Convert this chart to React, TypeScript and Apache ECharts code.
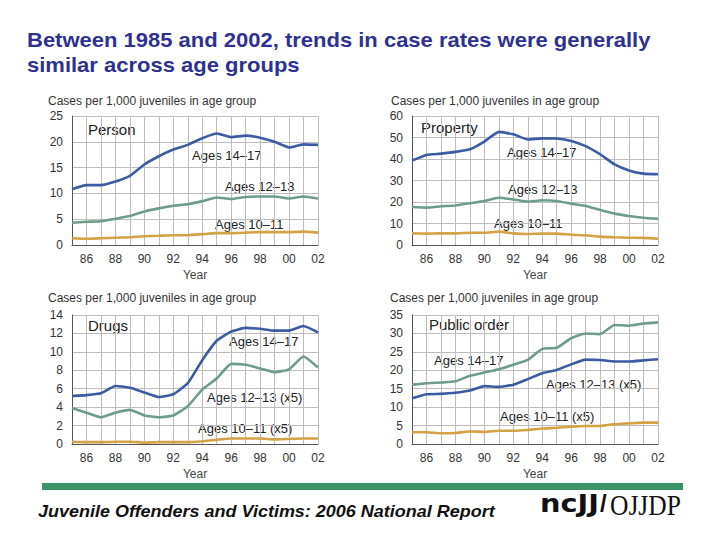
import React, { useEffect, useRef } from "react";
import * as echarts from "echarts";

const years = ["85", "86", "87", "88", "89", "90", "91", "92", "93", "94", "95", "96", "97", "98", "99", "00", "01", "02"];

const personAges1417 = [10.8, 11.6, 11.6, 12.3, 13.4, 15.6, 17.2, 18.5, 19.4, 20.7, 21.6, 20.9, 21.2, 20.8, 20.0, 18.9, 19.5, 19.4];
const personAges1213 = [4.3, 4.5, 4.6, 5.1, 5.6, 6.5, 7.1, 7.6, 7.9, 8.5, 9.2, 8.9, 9.3, 9.4, 9.4, 9.0, 9.4, 9.0];
const personAges1011 = [1.3, 1.2, 1.3, 1.4, 1.5, 1.7, 1.8, 1.9, 1.9, 2.1, 2.3, 2.3, 2.4, 2.5, 2.5, 2.5, 2.6, 2.4];

const propertyAges1417 = [39.3, 41.9, 42.5, 43.3, 44.5, 48.1, 52.6, 51.5, 49.1, 49.6, 49.5, 48.4, 46.0, 42.2, 37.5, 34.7, 33.2, 32.9];
const propertyAges1213 = [17.7, 17.4, 18.0, 18.4, 19.4, 20.5, 22.0, 21.2, 20.2, 20.8, 20.5, 19.2, 18.1, 16.3, 14.6, 13.5, 12.7, 12.2];
const propertyAges1011 = [5.4, 5.3, 5.4, 5.4, 5.7, 5.7, 6.2, 5.4, 5.1, 5.3, 5.3, 4.8, 4.5, 3.9, 3.6, 3.4, 3.3, 2.9];

const drugsAges1417 = [5.2, 5.3, 5.5, 6.3, 6.1, 5.6, 5.1, 5.4, 6.6, 9.1, 11.2, 12.2, 12.6, 12.5, 12.3, 12.3, 12.8, 12.1];
const drugsAges1213x5 = [3.9, 3.4, 2.9, 3.4, 3.7, 3.1, 2.9, 3.1, 4.1, 5.9, 7.1, 8.7, 8.6, 8.2, 7.8, 8.1, 9.5, 8.3];
const drugsAges1011x5 = [0.25, 0.2, 0.2, 0.25, 0.25, 0.15, 0.2, 0.2, 0.2, 0.3, 0.45, 0.6, 0.6, 0.6, 0.5, 0.55, 0.6, 0.6];

const publicOrderAges1417 = [16.1, 16.5, 16.7, 17.0, 18.5, 19.4, 20.3, 21.5, 22.8, 25.8, 26.1, 28.7, 30.0, 29.8, 32.3, 32.1, 32.7, 33.0];
const publicOrderAges1213x5 = [12.4, 13.5, 13.6, 13.9, 14.5, 15.7, 15.5, 16.1, 17.6, 19.2, 20.1, 21.6, 22.9, 22.8, 22.4, 22.4, 22.7, 23.0];
const publicOrderAges1011x5 = [3.2, 3.2, 2.9, 3.0, 3.4, 3.3, 3.6, 3.6, 3.8, 4.2, 4.4, 4.7, 4.9, 4.9, 5.4, 5.6, 5.8, 5.8];

const panelNames = ["Person", "Property", "Drugs", "Public order"];
const yMaxes = [25, 60, 14, 35];
const yIntervals = [5, 10, 2, 5];

const BLUE = "#3C5BA3";
const GREEN = "#6E9C8A";
const ORANGE = "#D3A244";
const FONT = "'Liberation Sans', Arial, sans-serif";

const grids = [
  { left: 72, top: 116, width: 246, height: 129 },
  { left: 412, top: 116, width: 246, height: 129 },
  { left: 72, top: 315, width: 246, height: 129 },
  { left: 412, top: 315, width: 246, height: 129 },
];

export default function App() {
  const ref = useRef<HTMLDivElement>(null);
  useEffect(() => {
    document.body.style.margin = "0";
    const chart = echarts.init(ref.current!, null, { renderer: "svg" });

    const panelSeries = [
      [
        { data: personAges1417, color: BLUE },
        { data: personAges1213, color: GREEN },
        { data: personAges1011, color: ORANGE },
      ],
      [
        { data: propertyAges1417, color: BLUE },
        { data: propertyAges1213, color: GREEN },
        { data: propertyAges1011, color: ORANGE },
      ],
      [
        { data: drugsAges1417, color: BLUE },
        { data: drugsAges1213x5, color: GREEN },
        { data: drugsAges1011x5, color: ORANGE },
      ],
      [
        { data: publicOrderAges1417, color: GREEN },
        { data: publicOrderAges1213x5, color: BLUE },
        { data: publicOrderAges1011x5, color: ORANGE },
      ],
    ];

    const xAxis = grids.map((_, i) => ({
      type: "category",
      gridIndex: i,
      data: years,
      boundaryGap: false,
      name: "Year",
      nameLocation: "middle",
      nameGap: 24,
      nameTextStyle: { fontFamily: FONT, fontSize: 12, color: "#444" },
      axisLine: { show: true, lineStyle: { color: "#555", width: 1 } },
      axisTick: { show: false },
      axisLabel: {
        interval: (index: number) => index % 2 === 1,
        fontFamily: FONT,
        fontSize: 12,
        color: "#333",
        margin: 8,
      },
      splitLine: { show: true, interval: 0, lineStyle: { color: "#BDBDBD", width: 1 } },
    }));

    const yAxis = grids.map((_, i) => ({
      type: "value",
      gridIndex: i,
      min: 0,
      max: yMaxes[i],
      interval: yIntervals[i],
      axisLine: { show: true, lineStyle: { color: "#555", width: 1 } },
      axisTick: { show: false },
      axisLabel: { fontFamily: FONT, fontSize: 12, color: "#333", margin: 9 },
      splitLine: { show: true, lineStyle: { color: "#BDBDBD", width: 1 } },
    }));

    const series: any[] = [];
    panelSeries.forEach((arr, i) => {
      arr.forEach((s) => {
        series.push({
          type: "line",
          xAxisIndex: i,
          yAxisIndex: i,
          data: s.data,
          symbol: "none",
          smooth: 0.15,
          lineStyle: { color: s.color, width: 2.6 },
          silent: true,
        });
      });
    });

    const txt = (x: number, y: number, text: string, size = 13, extra: any = {}) => ({
      type: "text",
      x,
      y,
      style: {
        text,
        fontFamily: FONT,
        fontSize: size,
        fill: "#222",
        textVerticalAlign: "middle",
        ...extra,
      },
      silent: true,
    });

    const subtitle = "Cases per 1,000 juveniles in age group";
    const graphic: any[] = [
      { ...txt(27, 39.5, "Between 1985 and 2002, trends in case rates were generally", 20, { fontWeight: "bold", fill: "#2E3192" }), scaleX: 1.1 },
      { ...txt(27, 64.5, "similar across age groups", 20, { fontWeight: "bold", fill: "#2E3192" }), scaleX: 1.1 },

      txt(48, 100.5, subtitle, 12, { fill: "#333" }),
      txt(391, 100.5, subtitle, 12, { fill: "#333" }),
      txt(48, 298, subtitle, 12, { fill: "#333" }),
      txt(390, 298, subtitle, 12, { fill: "#333" }),

      txt(88, 129, panelNames[0], 15),
      txt(421, 127, panelNames[1], 15),
      txt(88, 325, panelNames[2], 15),
      txt(429, 324, panelNames[3], 15),

      txt(192, 155, "Ages 14\u201317"),
      txt(225, 186, "Ages 12\u201313"),
      txt(215, 224, "Ages 10\u201311"),

      txt(507, 152, "Ages 14\u201317"),
      txt(508, 189, "Ages 12\u201313"),
      txt(494, 223, "Ages 10\u201311"),

      txt(229, 341, "Ages 14\u201317"),
      txt(207, 397, "Ages 12\u201313 (x5)"),
      txt(198, 428, "Ages 10\u201311 (x5)"),

      txt(434, 360, "Ages 14\u201317"),
      txt(546, 384, "Ages 12\u201313 (x5)"),
      txt(500, 416, "Ages 10\u201311 (x5)"),

      {
        type: "rect",
        shape: { x: 42, y: 483, width: 641, height: 7 },
        style: { fill: "#3A9468" },
        silent: true,
      },
      {
        type: "text",
        x: 38,
        y: 512,
        scaleX: 1.125,
        style: {
          text: "Juvenile Offenders and Victims: 2006 National Report",
          fontFamily: FONT,
          fontSize: 16,
          fontStyle: "italic",
          fontWeight: "bold",
          fill: "#111",
          textVerticalAlign: "middle",
        },
        silent: true,
      },
      {
        type: "text",
        x: 540,
        y: 503,
        scaleX: 1.2,
        style: {
          text: "ncJJ",
          fontFamily: "'DejaVu Sans', sans-serif",
          fontSize: 24,
          fontWeight: 900,
          fill: "#111",
          textVerticalAlign: "middle",
        },
        silent: true,
      },
      {
        type: "text",
        x: 600,
        y: 503,
        style: {
          text: "/",
          fontFamily: "'Liberation Sans', sans-serif",
          fontSize: 24,
          fontWeight: "bold",
          fill: "#111",
          textVerticalAlign: "middle",
        },
        silent: true,
      },
      {
        type: "text",
        x: 610,
        y: 505,
        scaleX: 0.85,
        style: {
          text: "OJJDP",
          fontFamily: "'Liberation Serif', serif",
          fontSize: 30,
          fill: "#111",
          textVerticalAlign: "middle",
        },
        silent: true,
      },
    ];

    chart.setOption({
      animation: false,
      backgroundColor: "#ffffff",
      grid: grids.map((g) => ({ ...g, containLabel: false })),
      xAxis,
      yAxis,
      series,
      graphic,
    });

    return () => chart.dispose();
  }, []);

  return <div ref={ref} style={{ width: 720, height: 540 }} />;
}
